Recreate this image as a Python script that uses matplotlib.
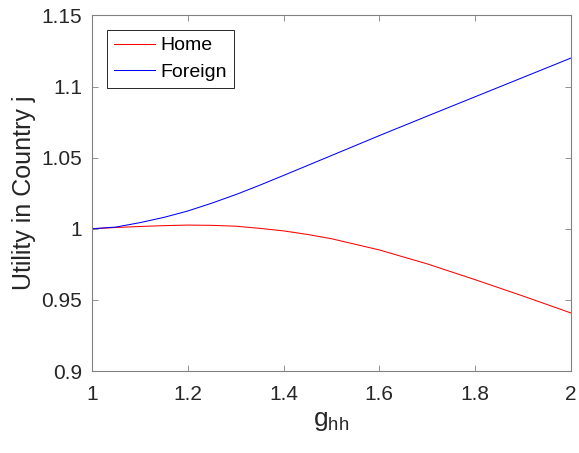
import matplotlib
matplotlib.use('Agg')
import matplotlib.pyplot as plt

plt.rcParams['font.family'] = ['Liberation Sans', 'DejaVu Sans']

g_hh = [1.0, 1.05, 1.1, 1.15, 1.2, 1.25, 1.3, 1.35, 1.4, 1.45, 1.5,
        1.6, 1.7, 1.8, 1.9, 2.0]
home = [1.0, 1.0009, 1.0016, 1.0022, 1.0026, 1.0024, 1.0018, 1.0003, 0.9985,
        0.9960, 0.9930, 0.9851, 0.9753, 0.9642, 0.9527, 0.9408]
foreign = [1.0, 1.0012, 1.0043, 1.0080, 1.0125, 1.0180, 1.0240, 1.0306, 1.0375,
           1.0445, 1.0515, 1.0655, 1.0792, 1.0928, 1.1064, 1.1200]

fig = plt.figure(figsize=(5.79, 4.53), dpi=100)
ax = fig.add_axes([0.159, 0.181, 0.827, 0.785])

ax.plot(g_hh, home, color='#ff0000', lw=0.75, label='Home')
ax.plot(g_hh, foreign, color='#0000ff', lw=0.75, label='Foreign')

ax.set_xlim(1, 2)
ax.set_ylim(0.9, 1.15)
ax.set_xticks([1, 1.2, 1.4, 1.6, 1.8, 2])
ax.set_xticklabels(['1', '1.2', '1.4', '1.6', '1.8', '2'])
ax.set_yticks([0.9, 0.95, 1.0, 1.05, 1.1, 1.15])
ax.set_yticklabels(['0.9', '0.95', '1', '1.05', '1.1', '1.15'])

gray = '#262626'
for s in ax.spines.values():
    s.set_color('#808080')
    s.set_linewidth(0.8)
ax.tick_params(direction='in', top=True, right=True, length=4, width=0.6,
               colors='#808080', labelcolor=gray, labelsize=15)
ax.tick_params(axis='x', pad=10)
ax.tick_params(axis='y', pad=7)

ax.set_xlabel(r'$\mathregular{g_{hh}}$', fontsize=19, color=gray, labelpad=4)
ax.set_ylabel('Utility in Country j', fontsize=18, color=gray, labelpad=4)

leg = ax.legend(loc='upper left', bbox_to_anchor=(0.031, 0.959), fontsize=14,
                fancybox=False, edgecolor='#262626', framealpha=1,
                handlelength=2.1, borderpad=0.35, labelspacing=0.45,
                handletextpad=0.3, borderaxespad=0)
leg.get_frame().set_linewidth(0.7)

fig.savefig('out.png', dpi=100)
